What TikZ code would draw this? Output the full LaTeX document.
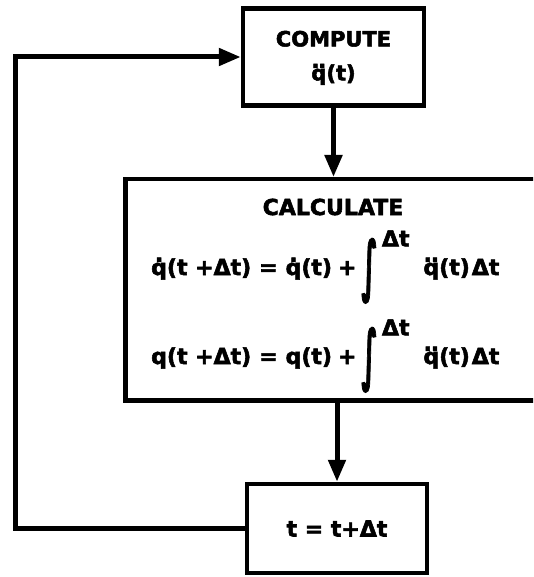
\documentclass[tikz,border=0pt]{standalone}
\usepackage{fontspec}
\setmainfont{DejaVu Sans}[BoldFeatures={FakeBold=2.5}]
\usepackage{graphicx}
\usepackage{tikz}
\usetikzlibrary{arrows.meta,positioning,calc}

\newcommand{\qdot}{\ooalign{q\cr\hidewidth\raisebox{.6em}{.}\hidewidth\cr}}
\newcommand{\qddot}{\ooalign{q\cr\hidewidth\raisebox{.6em}{.\kern-.05em.}\hidewidth\cr}}
\newcommand{\intdt}{\raisebox{-.6em}{\scalebox{1.2}[3]{∫}}\kern.2em\raisebox{1.3em}{Δt}}

\begin{document}
\begin{tikzpicture}[x=1pt, y=-1pt, font=\fontsize{22}{26}\selectfont\bfseries,
  box/.style={draw, line width=4.5pt, inner sep=0pt, align=center},
  arr/.style={-{Triangle[length=22pt,width=17pt]}, line width=5pt},
  txt/.style={inner sep=0pt, anchor=base west}]
  \useasboundingbox (0,0) rectangle (533,577);
  \clip (0,0) rectangle (533,577);
  \node[box, minimum width=181pt, minimum height=97pt, font=\fontsize{21}{25}\selectfont\bfseries] (compute) at (333.5,57) {COMPUTE\\[9pt]\qddot(t)};
  \node[box, anchor=north west, minimum width=460pt, minimum height=221pt] (calc) at (123,177) {};
  \node[inner sep=0pt] (hd) at (333,207) {CALCULATE};
  \node[txt] (eq1) at (151,275) {\qdot(t +Δt)\hspace{8pt}=\hspace{8pt}\qdot(t)\hspace{6pt}+\hspace{5pt}\intdt\hspace{14pt}\qddot(t)\hspace{2pt}Δt};
  \node[txt] (eq2) at (151,364) {q(t +Δt)\hspace{8pt}=\hspace{8pt}q(t)\hspace{6pt}+\hspace{5pt}\intdt\hspace{14pt}\qddot(t)\hspace{2pt}Δt};
  \node[box, minimum width=180pt, minimum height=89pt] (upd) at (337,528.5) {t = t+Δt};
  \coordinate (back) at (15,300);
  \draw[arr] (compute.south) -- (compute.south |- calc.north);
  \draw[arr] (upd.north |- calc.south) -- (upd.north);
  \draw[arr] (upd.west) -| (back) |- (compute.west);
\end{tikzpicture}
\end{document}
